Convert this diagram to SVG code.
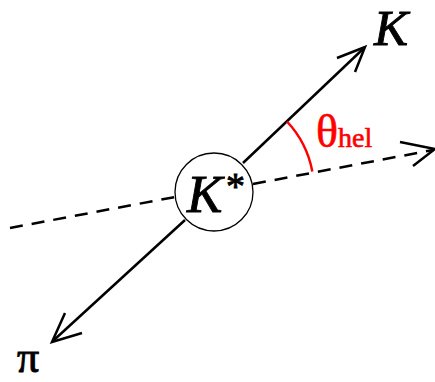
<svg xmlns="http://www.w3.org/2000/svg" width="435" height="382" viewBox="0 0 435 382">
<style>
.ln{stroke:#000;stroke-width:2.5;fill:none;stroke-linecap:butt}
.dash{stroke-dasharray:13,9}
.lbl{font-family:"Liberation Serif","DejaVu Serif",serif;font-style:italic;fill:#000;stroke:#000;stroke-width:0.9}
.sym{font-family:"Liberation Serif","DejaVu Serif",serif;fill:#000;stroke:#000;stroke-width:0.9}
</style>
<rect width="435" height="382" fill="#fff"/>
<g id="connectors">
<path class="ln dash" d="M10,228 L175,197"/>
<path class="ln dash" d="M253,184 L433,150"/>
<path class="ln" d="M400,142 L435,149 L413,166"/>
<path class="ln" d="M243,163 L363,49"/>
<path class="ln" d="M337,58 L365,47 L355,72"/>
<path class="ln" d="M185,220 L54,340"/>
<path class="ln" d="M65,313 L52,342 L82,333"/>
<path d="M287,121.5 A100,100 0 0 1 312.3,171.4" stroke="#f00" stroke-width="2.5" fill="none"/>
</g>
<g id="kstar">
<circle cx="214" cy="192" r="39" fill="#fff" stroke="#000" stroke-width="1.3"/>
<text class="lbl" x="187" y="212" font-size="53">K</text>
<text class="sym" x="226" y="199" font-size="38">*</text>
</g>
<g id="k">
<text class="lbl" x="374" y="45" font-size="51">K</text>
</g>
<g id="pi">
<text class="sym" x="17" y="372" font-size="44">π</text>
</g>
<g id="theta">
<text x="316" y="147" font-family="Liberation Serif,serif" font-size="46" fill="#f00" stroke="#f00" stroke-width="0.6">θ<tspan font-size="28">hel</tspan></text>
</g>
</svg>
